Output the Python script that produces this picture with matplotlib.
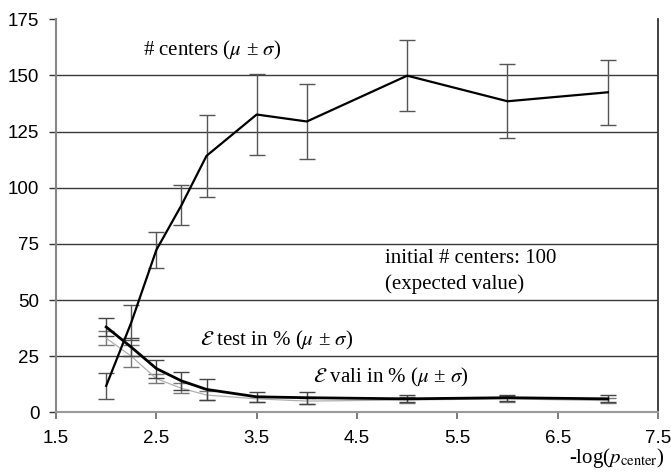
import matplotlib
matplotlib.use("Agg")
import matplotlib.pyplot as plt

x_vals = [2.0, 2.25, 2.5, 2.75, 3.0, 3.5, 4.0, 5.0, 6.0, 7.0]
centers_mean = [11.8, 40, 72.3, 92.2, 114.2, 132.6, 129.5, 149.9, 138.5, 142.5]
centers_sd = [5.7, 7.7, 8.2, 8.8, 18.3, 18.2, 16.9, 15.9, 16.5, 14.5]
test_mean = [38, 29, 19.5, 14, 10.2, 6.9, 6.5, 6.0, 6.5, 6.0]
test_sd = [4.2, 4.1, 4.0, 4.0, 4.5, 2.3, 2.6, 1.5, 1.4, 1.6]
vali_mean = [33, 25, 15, 10.7, 7.7, 6.0, 5.0, 5.5, 6.0, 5.2]
vali_sd = [3.0, 5.0, 2.0, 2.2, 2.0, 1.3, 1.3, 1.2, 1.2, 1.2]
x_ticks = [1.5, 2.5, 3.5, 4.5, 5.5, 6.5, 7.5]
y_ticks = [0, 25, 50, 75, 100, 125, 150, 175]

plt.rcParams['mathtext.fontset'] = 'stix'
serif = ['Liberation Serif', 'DejaVu Serif']

fig = plt.figure(figsize=(6.71, 4.73), dpi=100)
ax = fig.add_axes([0.0835, 0.1283, 0.8971, 0.8309])
ax.set_xlim(1.5, 7.5)
ax.set_ylim(0, 175)

for g in [25, 50, 75, 100, 125, 150]:
    ax.axhline(g, color='#3a3a3a', lw=1.0, zorder=1)

ax.errorbar(x_vals, vali_mean, yerr=vali_sd, color='#b0b0b0', lw=0.9,
            ecolor='#777777', elinewidth=1.0, capsize=5.5, capthick=1.0, zorder=3)
ax.errorbar(x_vals, test_mean, yerr=test_sd, color='black', lw=2.0,
            ecolor='#444444', elinewidth=1.0, capsize=5.5, capthick=1.0, zorder=4)
ax.errorbar(x_vals, centers_mean, yerr=centers_sd, color='black', lw=1.6,
            ecolor='#555555', elinewidth=1.0, capsize=5.5, capthick=1.0, zorder=5)

ax.set_xticks(x_ticks)
ax.set_yticks(y_ticks)
ax.set_xticklabels([f"{v:g}" for v in x_ticks], family='Liberation Sans', fontsize=13.5)
ax.set_yticklabels([f"{v:g}" for v in y_ticks], family='Liberation Sans', fontsize=13.5)
ax.tick_params(axis='x', direction='out', length=5, width=1.2, color='#666666', pad=8)
ax.tick_params(axis='y', direction='out', length=5, width=1.0, color='#333333', pad=7)

ax.spines['top'].set_visible(False)
ax.spines['left'].set_color('#888888')
ax.spines['left'].set_linewidth(1.5)
ax.spines['bottom'].set_color('#999999')
ax.spines['bottom'].set_linewidth(1.5)
ax.spines['right'].set_color('#333333')
ax.spines['right'].set_linewidth(1.3)

fs = 15
pm = r"($\mu$ ± $\sigma$)"
ax.text(2.37, 161.3, "# centers " + pm, family=serif, fontsize=fs, va='center', ha='left')
ax.text(4.78, 68.6, "initial # centers: 100", family=serif, fontsize=fs, va='center', ha='left')
ax.text(4.78, 57.2, "(expected value)", family=serif, fontsize=fs, va='center', ha='left')
ax.text(2.935, 32.2, r"$\mathcal{E}$ test in % " + pm, family=serif, fontsize=fs, va='center', ha='left')
ax.text(4.06, 15.7, r"$\mathcal{E}$ vali in % " + pm, family=serif, fontsize=fs, va='center', ha='left')

fig.text(0.991, 0.021, r"-log($p_{\mathrm{center}}$)", family=serif, fontsize=fs, ha='right', va='baseline')

fig.savefig("out.png", dpi=100)
